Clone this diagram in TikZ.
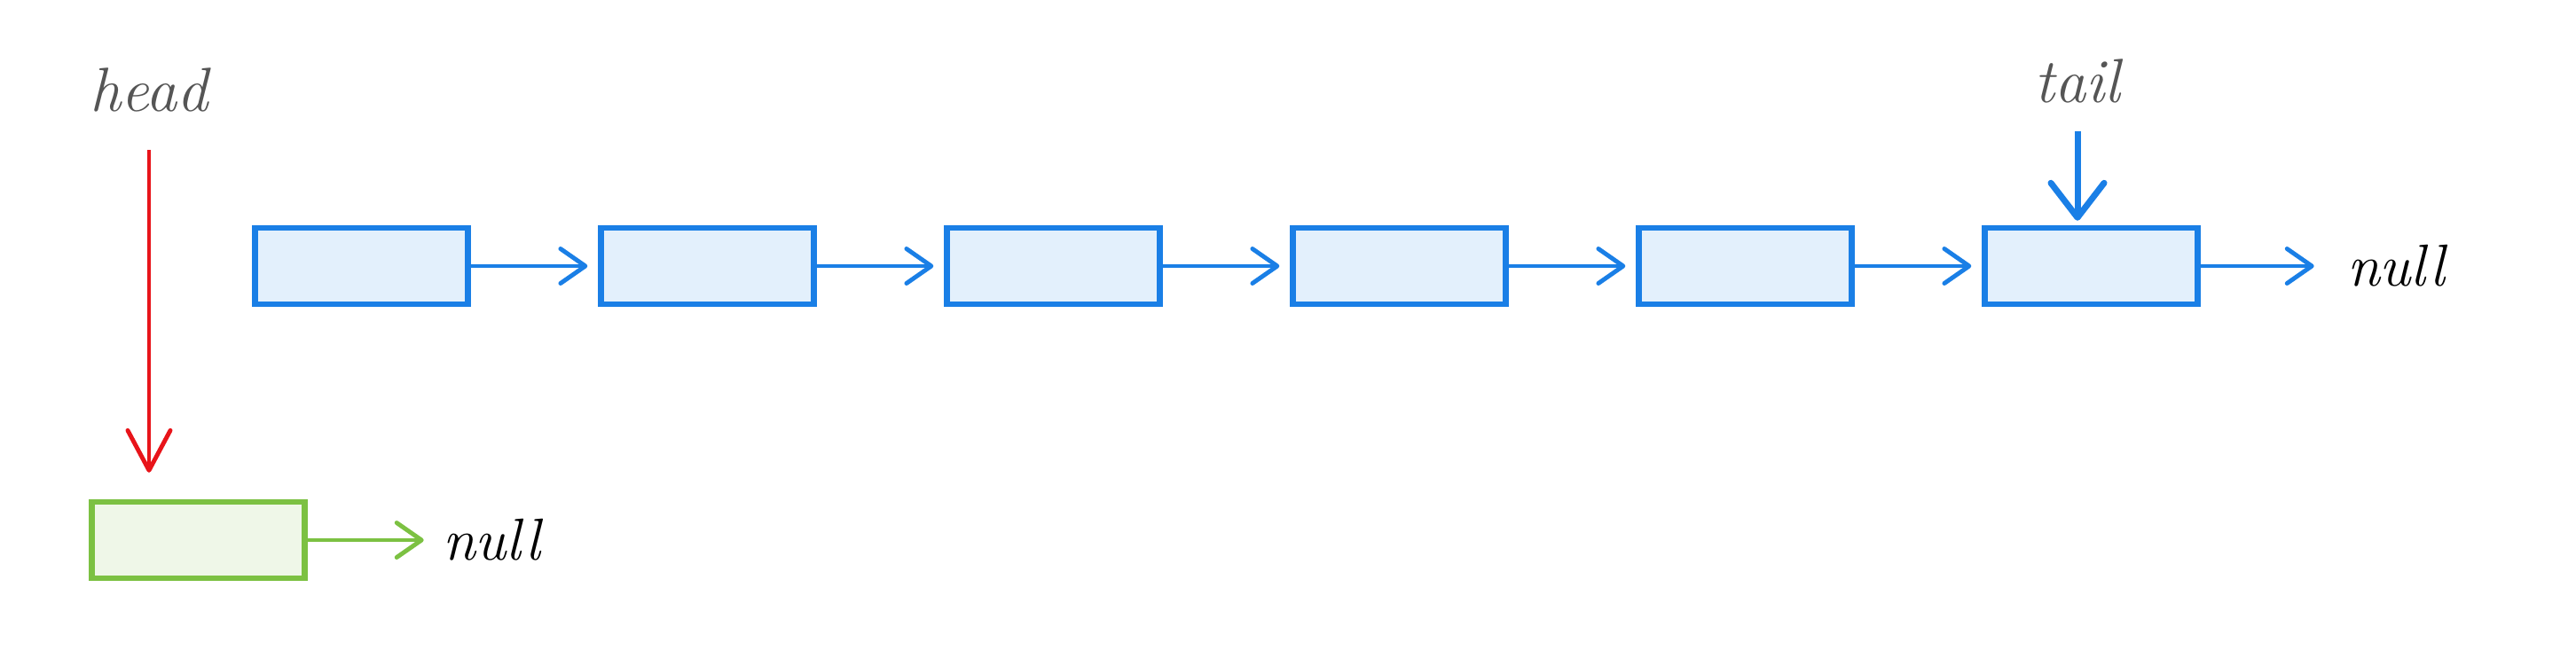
\documentclass[tikz,border=0pt]{standalone}
\usepackage{fontspec}
\usepackage{tikz}
\usetikzlibrary{positioning, arrows.meta}
\definecolor{nodeblue}{HTML}{1A7FE6}
\definecolor{nodefill}{HTML}{E3F0FC}
\definecolor{newgreen}{HTML}{7CC142}
\definecolor{newfill}{HTML}{EFF7E8}
\definecolor{headred}{HTML}{E8141A}
\definecolor{ptrgray}{HTML}{555555}
\tikzset{
    ->, % every connector is directed
    >={Straight Barb[length=2.8mm, width=3.9mm, line cap=round, line join=round]}, % open chevron heads
    listnode/.style={draw=nodeblue, fill=nodefill, line width=1.8pt, minimum width=2.4cm, minimum height=0.86cm, inner sep=0pt}, % a node of the list
    newnode/.style={listnode, draw=newgreen, fill=newfill}, % the fresh node
    ptrtext/.style={text=ptrgray, font=\itshape\fontsize{20}{24}\selectfont, inner sep=0pt},
    nulltext/.style={text=black, font=\itshape\fontsize{19}{23}\selectfont, inner sep=0pt},
    node distance=3.9cm, % centre to centre of two list nodes
}
\begin{document}
\begin{tikzpicture}[line width=1.4pt]
    \useasboundingbox (0,0) rectangle (29.04,-7.5);
    \node[listnode] (n1) at (4.075,-3.0) {};
    \node[listnode, right of=n1] (n2) {};
    \node[listnode, right of=n2] (n3) {};
    \node[listnode, right of=n3] (n4) {};
    \node[listnode, right of=n4] (n5) {};
    \node[listnode, right of=n5] (n6) {};
    \node[nulltext, right=1.63cm of n6] (null2) {null};
    \node[ptrtext] (tail) at (23.42,-0.91) {tail};
    \node[newnode] (new) at (2.235,-6.09) {};
    \node[nulltext, right=1.5cm of new] (null1) {null};
    \node[ptrtext] (head) at (1.68,-1.01) {head};
    \draw[nodeblue, shorten >=0.12cm] (n1) edge (n2)
    (n2) edge (n3)
    (n3) edge (n4)
    (n4) edge (n5)
    (n5) edge (n6);
    \draw[nodeblue, shorten >=0.35cm] (n6) -- (null2);
    \draw[nodeblue, line width=2pt, -{Straight Barb[length=3.9mm, width=6mm, line cap=round, line join=round]}, shorten <=0.3cm, shorten >=0.05cm] (tail.south) -- (tail.south |- n6.north);
    \draw[newgreen, shorten >=0.19cm] (new) -- (null1);
    \draw[headred, -{Straight Barb[length=4.5mm, width=4.8mm, line cap=round, line join=round]}, shorten <=0.41cm, shorten >=0.3cm] (head.south) -- (head.south |- new.north);
\end{tikzpicture}
\end{document}
